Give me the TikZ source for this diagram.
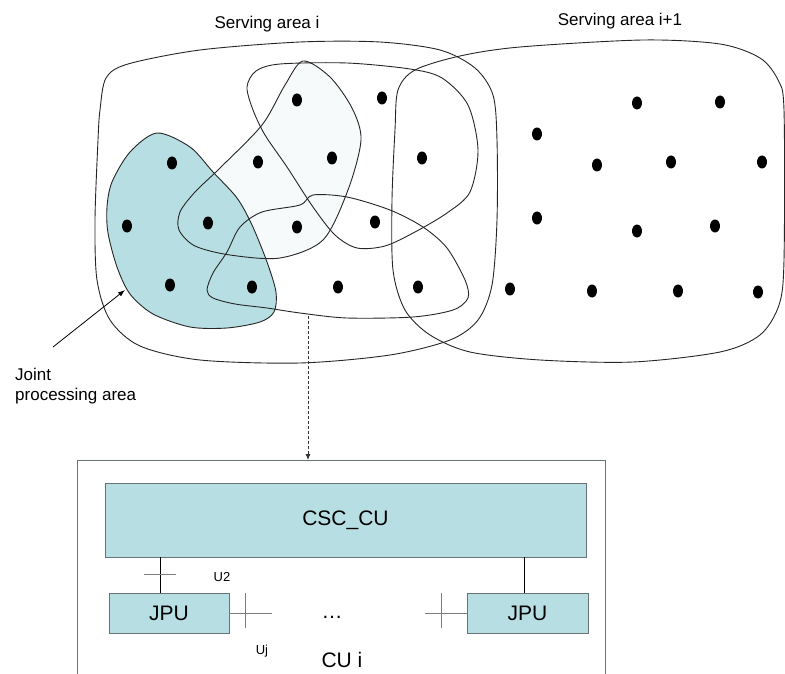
\documentclass[tikz,border=0pt]{standalone}
\usepackage{fontspec}
\setmainfont{Liberation Sans}
\usetikzlibrary{positioning,shapes.geometric,arrows.meta}

\definecolor{jpteal}{RGB}{183,222,227}
\definecolor{jpfaint}{RGB}{246,250,251}
\definecolor{boxedge}{RGB}{105,115,118}
\definecolor{tickgray}{RGB}{125,125,125}

\begin{document}
\begin{tikzpicture}[x=1pt,y=-1pt,node distance=358.5pt,on grid,
    area/.style={line width=0.9pt,black!85},
    ue/.style={ellipse,fill=black,inner sep=0pt,minimum width=10pt,minimum height=13pt},
    unitbox/.style={rectangle,draw=boxedge,fill=jpteal,line width=0.9pt,font=\fontsize{21}{24}\selectfont},
    tick/.style={tickgray,line width=0.8pt},
    lbl/.style={font=\fontsize{17}{20}\selectfont},
    small/.style={font=\fontsize{13}{15}\selectfont}]
   \useasboundingbox (0,0) rectangle (785,674);

   % cooperation sets
   \fill[jpfaint] plot[smooth cycle] coordinates {(303,61) (330,77) (352,108) (361,140) (348,190) (323,240) (280,258) (230,255) (195,246) (179,230) (180,212) (195,192) (220,168) (262,125) (285,85)};
   \filldraw[area,fill=jpteal] plot[smooth cycle] coordinates {(157,133) (190,147) (213,172) (237,198) (252,225) (267,262) (276,292) (274,312) (260,322) (227,328) (190,327) (153,314) (130,294) (117,267) (108,233) (107,207) (112,182) (130,152)};
   \draw[area] plot[smooth cycle] coordinates {(303,61) (330,77) (352,108) (361,140) (348,190) (323,240) (280,258) (230,255) (195,246) (179,230) (180,212) (195,192) (220,168) (262,125) (285,85)};
   \draw[area] plot[smooth cycle] coordinates {(247,87) (253,110) (265,135) (287,167) (313,207) (335,235) (357,248) (385,246) (415,232) (447,213) (470,192) (478,150) (468,105) (442,78) (410,69) (347,63) (280,64) (256,71)};
   \draw[area] plot[smooth cycle] coordinates {(300,205) (262,212) (240,227) (227,252) (213,273) (207,290) (213,298) (235,304) (267,308) (300,313) (347,318) (413,317) (453,310) (468,298) (465,280) (447,248) (423,227) (390,210) (347,197) (313,195)};

   % serving areas
   \draw[area] plot[smooth cycle] coordinates {(100,110) (106,78) (128,64) (200,50) (300,42) (380,42) (440,50) (475,68) (493,95) (497,140) (497,220) (492,285) (478,320) (450,340) (390,355) (300,363) (200,360) (140,346) (110,320) (97,280) (95,220) (98,140)};
   \draw[area] plot[smooth cycle] coordinates {(395,130) (398,90) (415,70) (460,56) (520,47) (643,40) (720,44) (760,58) (778,80) (784,110) (784,260) (779,305) (760,335) (720,352) (633,362) (540,360) (470,352) (430,335) (405,310) (393,270) (392,200)};

   \foreach \x/\y [count=\k] in {297/100,382/98,258/162,332/158,422/158,172/163,127/226,208/223,297/227,375/222,170/285,252/287,338/287,418/287,
       637/103,720/102,537/134,597/165,671/162,762/162,537/218,637/231,715/226,510/289,592/291,678/291,758/292}
     \node[ue] (ue\k) at (\x,\y) {};

   \node[lbl] (sai) at (267,24) {Serving area i};
   \node[lbl] (sainext) at (620,21) {Serving area i+1};
   \node[lbl,align=left,anchor=west,inner sep=0pt] (jparea) at (15,386) {Joint\\processing area};

   \coordinate (jpfoot) at (53,347);
   \coordinate (jptip) at (125,290);
   \draw[line width=0.8pt,-{Latex[length=7pt,width=5pt]}] (jpfoot) -- (jptip);

   % control unit
   \draw[boxedge,line width=0.9pt] (77,674) |- (605,460) -- (605,674);
   \node[unitbox,minimum width=481pt,minimum height=74pt] (csccu) at (345.5,520) {CSC\_CU};
   \node[unitbox,minimum width=120pt,minimum height=40pt] (jpu1) at (169,613) {JPU};
   \node[unitbox,minimum width=121pt,minimum height=40pt] (jpun) [right=of jpu1] {JPU};

   \coordinate (bbot) at (308,316);
   \coordinate (cutop) at (308,460);
   \draw[line width=0.8pt,black!80,dash pattern=on 3pt off 2pt,-{Latex[length=6pt,width=5pt]}] (bbot) -- (cutop);

   \coordinate (u2top) at (160,557);
   \coordinate (untop) at (524,557);
   \draw[line width=0.9pt] (u2top) -- (u2top |- jpu1.north);
   \draw[line width=0.9pt] (untop) -- (untop |- jpun.north);
   \draw[tick] (144,574) -- (176,574);
   \coordinate (ujend) at (272,613);
   \coordinate (unend) at (425,613);
   \draw[tick] (jpu1.east) -- (ujend);
   \draw[tick] (245,593) -- (245,628);
   \draw[tick] (jpun.west) -- (unend);
   \draw[tick] (441,593) -- (441,628);

   \node[small] (u2) at (222,577) {U2};
   \node[small] (uj) at (262,651) {Uj};
   \node[lbl,font=\fontsize{21}{24}\selectfont] (more) at (332,617) {\dots};
   \node[lbl,font=\fontsize{21}{24}\selectfont] (cui) at (342,660) {CU i};
\end{tikzpicture}
\end{document}
